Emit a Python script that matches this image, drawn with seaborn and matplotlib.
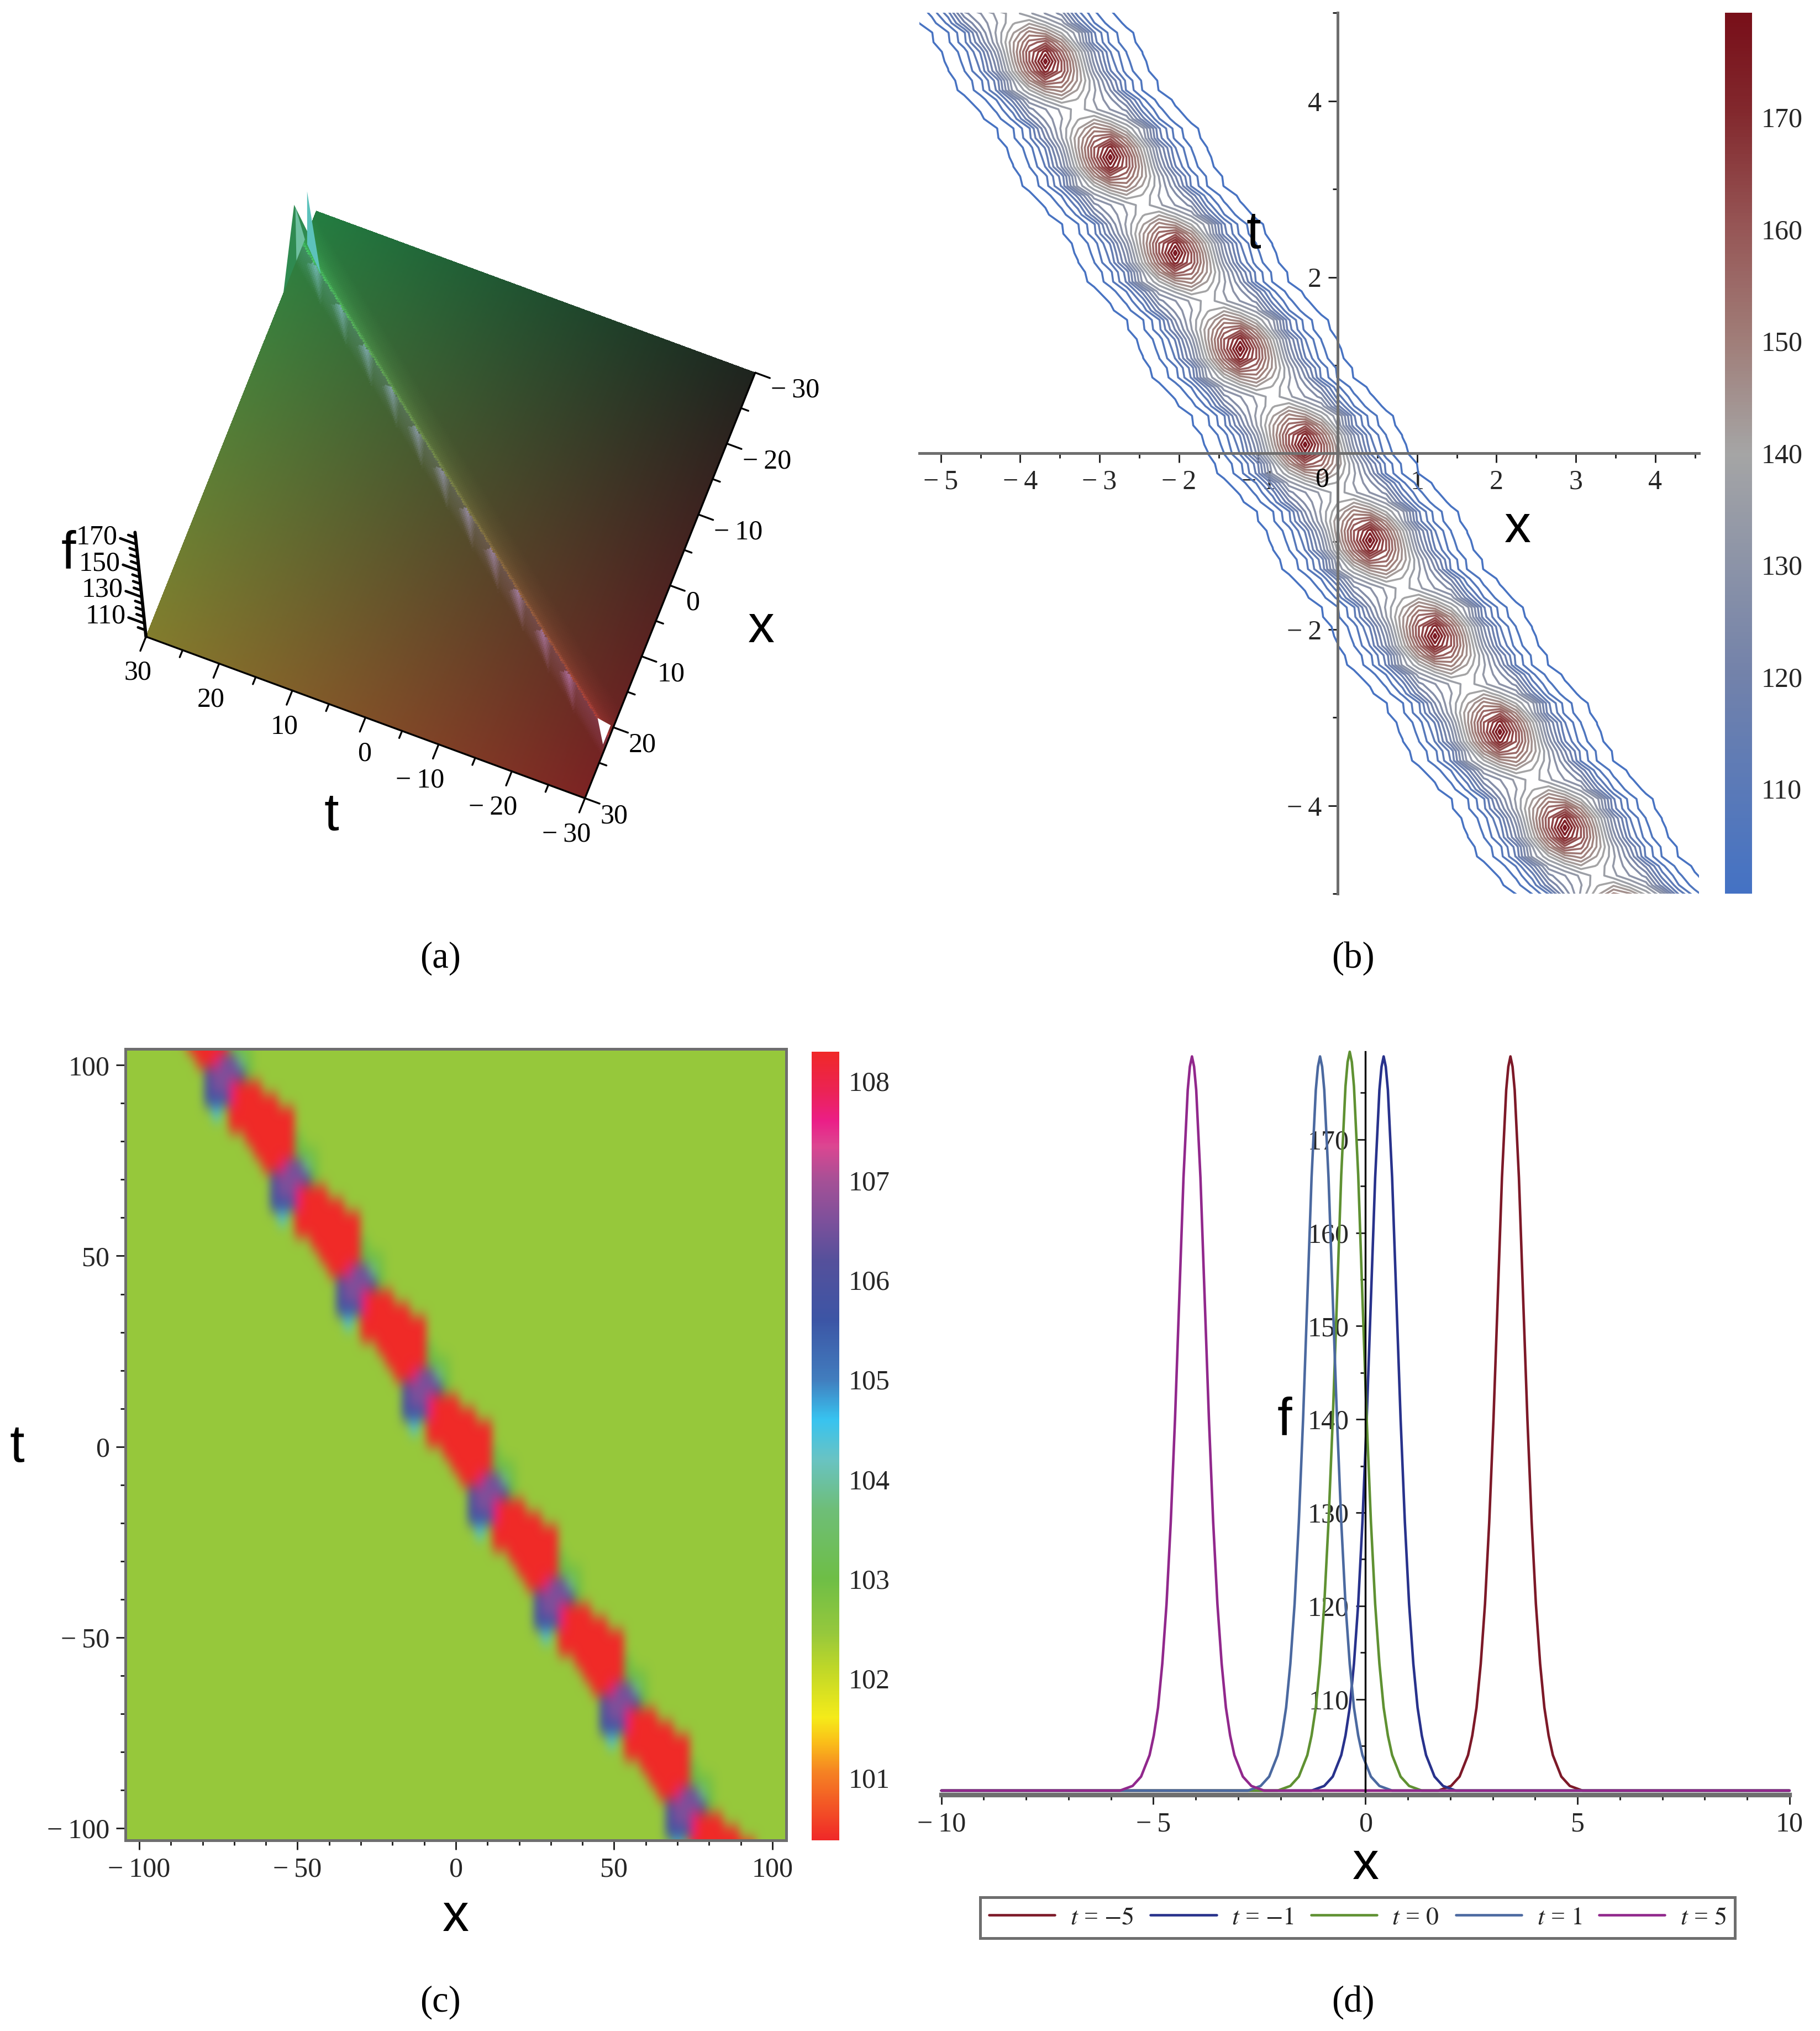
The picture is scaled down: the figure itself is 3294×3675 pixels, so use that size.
import numpy as np
import pandas as pd
import matplotlib
matplotlib.use("Agg")
import matplotlib.pyplot as plt
import seaborn as sns
from matplotlib.colors import LinearSegmentedColormap, Normalize
from matplotlib.cm import ScalarMappable
from mpl_toolkits.mplot3d import proj3d
from mpl_toolkits.mplot3d.art3d import Poly3DCollection

# (a) surface: corner colours, ridge and streaks
corner_L = [130, 125, 45]
corner_T = [35, 125, 65]
corner_R = [30, 35, 30]
corner_B = [125, 35, 35]
ridge_t = [30, -30]
ridge_x = [-25.2, 21.5]
streak_x = [-23, -19.13, -15.26, -11.39, -7.52, -3.65, 0.22, 4.09, 7.96, 11.83, 15.7]
streak_t = [27.4, 22.44, 17.48, 12.52, 7.56, 2.6, -2.36, -7.32, -12.28, -17.24, -22.2]
a_major = [-30, -20, -10, 0, 10, 20, 30]
a_minor = [-25, -15, -5, 5, 15, 25]
f_major = [110, 130, 150, 170]
f_minor = [105, 115, 120, 125, 135, 140, 145, 155, 160, 165, 175]

# (b) contours: peak places and one period of the band (rows top to bottom)
peak_x = [-4.5, -3.682, -2.864, -2.046, -1.228, -0.41, 0.408, 1.226, 2.044, 2.862, 3.68]
peak_t = [5.5375, 4.45, 3.3625, 2.275, 1.1875, 0.10, -0.9875, -2.075, -3.1625, -4.25, -5.3375]
row_mid = [100, 100.2, 100.4, 101.1, 102.5, 106, 113, 126, 143, 161, 178,
           161, 143, 126, 113, 106, 102.5, 101.1, 100.4, 100.2, 100]
row_dn1 = [100, 100.1, 100.4, 101, 102.1, 105.2, 111.6, 124, 140, 156, 172,
           161, 145, 129, 115, 106.9, 102.8, 101.2, 100.5, 100.2, 100]
row_dn2 = [100, 100, 100.2, 100.6, 101.4, 103.2, 107.6, 116, 133, 148, 160,
           156, 145, 133, 121, 110.5, 104.7, 101.9, 100.9, 100.35, 100.1]
row_dn3 = [100, 100, 100.2, 100.5, 101.2, 102.9, 107, 115, 131, 139, 147,
           150, 142, 134, 124, 111, 105.1, 102.1, 101, 100.4, 100.1]
row_dn4 = [100, 100, 100, 100.3, 100.7, 101.6, 103.8, 108.6, 119, 132, 137,
           142, 139, 133, 128, 120, 109.1, 104, 101.7, 100.8, 100.3]
row_saddle = [100, 100, 100, 100.2, 100.4, 101.1, 102.4, 106, 113, 126, 130,
              134, 138, 134, 130, 126, 113, 106, 102.5, 101.1, 100.4]
b_ticks_x = [-5, -4, -3, -2, -1, 1, 2, 3, 4]
b_ticks_t = [-4, -2, 2, 4]
b_bar_ticks = [110, 120, 130, 140, 150, 160, 170]

# (c) density: purple blob places and one period of the band
blob_x = [-93.8, -73, -52.2, -31.4, -10.6, 10.2, 31, 51.8, 72.6]
blob_t = [121.4, 94, 66.6, 39.2, 11.8, -15.6, -43, -70.4, -97.8]
bg = 102.45
red = 100.4
tile_c = [
    [bg, bg, 106.0, 106.6, 106.6, 107.7, red, red, red, bg, bg, bg],
    [bg, 105.6, 105.6, 105.8, 107.7, red, red, red, red, red, bg, bg],
    [bg, 104.5, bg, red, red, red, red, red, red, red, red, bg],
    [bg, bg, red, red, red, red, red, red, red, red, bg, bg],
    [bg, bg, bg, red, red, red, red, red, red, 103.0, bg, bg],
    [bg, bg, bg, red, red, red, red, red, 103.0, 103.0, 102.8, bg],
    [bg, bg, bg, red, red, 107.7, 106.6, 106.4, 103.8, 102.9, bg, bg],
    [bg, bg, bg, 106.2, 106.6, 106.6, 106.6, 106.0, 103.0, bg, bg, bg],
]
c_ticks = [-100, -50, 0, 50, 100]
c_bar_ticks = [101, 102, 103, 104, 105, 106, 107, 108]

# (d) curves
curve_f = [100.2, 100.2, 100.7, 101.7, 104, 106.1, 109.1, 113.8, 120.2, 129, 140, 152.9, 165.9, 175.3, 177.8, 178.9,
           177.8, 175.3, 165.9, 152.9, 140, 129, 120.2, 113.8, 109.1, 106.1, 104, 101.7, 100.7, 100.2, 100.2]
curve_f0 = [100.2, 100.2, 100.7, 101.7, 104, 106.1, 109.1, 113.8, 120.2, 129, 140, 153, 166.2, 175.7, 178.3, 179.4,
            178.3, 175.7, 166.2, 153, 140, 129, 120.2, 113.8, 109.1, 106.1, 104, 101.7, 100.7, 100.2, 100.2]
x_tm5 = [-10, 1.72, 2.02, 2.22, 2.42, 2.52, 2.62, 2.72, 2.82, 2.92, 3.02, 3.12, 3.22, 3.32, 3.37, 3.42,
         3.47, 3.52, 3.62, 3.72, 3.82, 3.92, 4.02, 4.12, 4.22, 4.32, 4.42, 4.62, 4.82, 5.12, 10]
x_tm1 = [-10, -1.27, -0.97, -0.77, -0.57, -0.47, -0.37, -0.27, -0.17, -0.07, 0.03, 0.13, 0.23, 0.33, 0.38, 0.43,
         0.48, 0.53, 0.63, 0.73, 0.83, 0.93, 1.03, 1.13, 1.23, 1.33, 1.43, 1.63, 1.83, 2.13, 10]
x_t0 = [-10, -2.07, -1.77, -1.57, -1.37, -1.27, -1.17, -1.07, -0.97, -0.87, -0.77, -0.67, -0.57, -0.47, -0.42, -0.37,
        -0.32, -0.27, -0.17, -0.07, 0.03, 0.13, 0.23, 0.33, 0.43, 0.53, 0.63, 0.83, 1.03, 1.33, 10]
x_t1 = [-10, -2.77, -2.47, -2.27, -2.07, -1.97, -1.87, -1.77, -1.67, -1.57, -1.47, -1.37, -1.27, -1.17, -1.12, -1.07,
        -1.02, -0.97, -0.87, -0.77, -0.67, -0.57, -0.47, -0.37, -0.27, -0.17, -0.07, 0.13, 0.33, 0.63, 10]
x_t5 = [-10, -5.79, -5.49, -5.29, -5.09, -4.99, -4.89, -4.79, -4.69, -4.59, -4.49, -4.39, -4.29, -4.19, -4.14, -4.09,
        -4.04, -3.99, -3.89, -3.79, -3.69, -3.59, -3.49, -3.39, -3.29, -3.19, -3.09, -2.89, -2.69, -2.39, 10]
d_labels = ["$t$ = $-5$", "$t$ = $-1$", "$t$ = $0$", "$t$ = $1$", "$t$ = $5$"]
d_colors = ["#7d1928", "#28328c", "#5f9132", "#4b69a0", "#91288c"]
d_ticks_x = [-10, -5, 0, 5, 10]
d_ticks_f = [110, 120, 130, 140, 150, 160, 170]

sns.set_theme(style="white")
plt.rcParams["font.family"] = ["Liberation Serif", "DejaVu Serif"]
plt.rcParams["mathtext.fontset"] = "stix"
plt.rcParams["axes.unicode_minus"] = True

W, H = 1406.0, 1568.0
fig = plt.figure(figsize=(3295 / 300, 3675 / 300), dpi=300, facecolor="white")


def rect(l, t, r, b):
    return [l / W, 1 - b / H, (r - l) / W, (b - t) / H]


def big(px, py, s):
    fig.text(px / W, 1 - py / H, s, family="Liberation Sans", fontsize=23, ha="center", va="center", color="black")


def minus(v):
    return str(v).replace("-", "\u2212\u2009")


tick_fs = 12
gray = "#6e6e6e"

# ---------- (a)
ax = fig.add_axes([0, 0.5, 0.5, 0.5 * 3295 / 3675], projection="3d", proj_type="ortho", computed_zorder=False)
ax.view_init(elev=75, azim=27, roll=6)
ax.set_box_aspect((1, 1, 0.86))
ax.set_xlim(-30, 30)
ax.set_ylim(30, -30)
ax.set_zlim(100, 179)
ax.set_autoscale_on(False)
ax.set_xticks([])
ax.set_yticks([])
ax.set_zticks([])
ax.set_axis_off()
ax.patch.set_alpha(0)


def corner(x, t, f=100):
    X, Y, _ = proj3d.proj_transform(x, t, f, ax.get_proj())
    return ax.transData.transform((X, Y))


# put the plane where it sits in the picture
s = 3295 / W
goal_L = np.array([113 * s, (H - 492) * s])
goal_R = np.array([583 * s, (H - 287) * s])
for i in range(3):
    fig.canvas.draw()
    pL, pR = corner(30, 30), corner(-30, -30)
    k = np.linalg.norm(goal_R - goal_L) / np.linalg.norm(pR - pL)
    pos = ax.get_position()
    mid = (pL + pR) / 2
    goal_mid = (goal_L + goal_R) / 2
    x0 = pos.x0 * 3295 + (goal_mid[0] - mid[0])
    y0 = pos.y0 * 3675 + (goal_mid[1] - mid[1])
    cx = x0 + pos.width * 3295 / 2
    cy = y0 + pos.height * 3675 / 2
    nw = pos.width * 3295 * k
    nh = pos.height * 3675 * k
    ax.set_position([(cx - nw / 2) / 3295, (cy - nh / 2) / 3675, nw / 3295, nh / 3675])
fig.canvas.draw()


def label3d(x, t, f, text, ha):
    p = corner(x, t, f)
    fig.text(p[0] / 3295, p[1] / 3675, text, ha=ha, va="center", fontsize=tick_fs, color="black")


gx = np.linspace(-30, 30, 241)
gt = np.linspace(30, -30, 241)
X, T = np.meshgrid(gx, gt)
u = (X + 30) / 60   # 0 at x=-30
v = (30 - T) / 60   # 0 at t=30
base = ((1 - u) * (1 - v))[..., None] * np.array(corner_T) + (u * (1 - v))[..., None] * np.array(corner_L) \
    + ((1 - u) * v)[..., None] * np.array(corner_R) + (u * v)[..., None] * np.array(corner_B)
base = base / 255.0

off = X - np.interp(T, ridge_t[::-1], ridge_x[::-1])
glow = np.interp(off, [-4, -2, -0.6, -0.1, 0], [0, 0.1, 0.25, 0.65, 0])
wash = np.interp(off, [-0.1, 0, 1.6, 2.6], [0, 0.4, 0.2, 0])
for sx, st in zip(streak_x, streak_t):
    along = ((X - sx) * 4.66 + (T - st) * -2.57) / (4.66 ** 2 + 2.57 ** 2)
    across = ((X - sx) * 2.57 + (T - st) * 4.66) / 5.32
    half = np.maximum(1.1 * (1 - along), 0.01)
    a = 0.9 * np.clip(1 - along, 0, 1) * np.clip(1 - np.abs(across) / half, 0, 1)
    a[(along < -0.15) | (off < 0)] = 0
    wash = wash + a
rgb = base * (1 + glow[..., None]) + wash[..., None] * np.array([50, 45, 85]) / 255.0
rgb = np.clip(rgb, 0, 1)
ax.plot_surface(X, T, np.full_like(X, 100.0), facecolors=rgb, rstride=1, cstride=1, linewidth=0,
                antialiased=False, shade=False, zorder=1)

spikes = [
    ([-18.4, -27, -24], [30, 30, 30], [100, 100, 137], "#2f8a50"),
    ([-23, -26, -24.3], [30, 30, 30], [100, 100, 134], "#6fc0a0"),
    ([-25.5, -22.5, -23.9], [29.5, 26.5, 27.9], [100, 100, 152], "#5cc2bc"),
    ([19.6, 19.9, 22.6], [-27.7, -29.6, -29.6], [100.2, 100.2, 100.2], "white"),
]
for sx, st, sf, col in spikes:
    ax.add_collection3d(Poly3DCollection([list(zip(sx, st, sf))], facecolors=col, edgecolors="none", zorder=2))

ax.plot([30, 30], [30, -30], [100, 100], color="black", lw=0.8, zorder=3)
ax.plot([30, -30], [-30, -30], [100, 100], color="black", lw=0.8, zorder=3)
ax.plot([30, 30], [30, 30], [100, 179], color="black", lw=1.4, zorder=3)
for v_ in a_major:
    ax.plot([30, 32], [v_, v_], [100, 100], color="black", lw=0.8, zorder=3)
    label3d(34.2, v_ - 2.4, 100, minus(v_), "right")
    ax.plot([v_, v_], [-30, -32], [100, 100], color="black", lw=0.8, zorder=3)
    label3d(v_ + 1.5, -32.7, 100, minus(v_), "left")
for v_ in a_minor:
    ax.plot([30, 31], [v_, v_], [100, 100], color="black", lw=0.8, zorder=3)
    ax.plot([v_, v_], [-30, -31], [100, 100], color="black", lw=0.8, zorder=3)
for v_ in f_major:
    ax.plot([30, 30], [30, 32.2], [v_, v_], color="black", lw=1.1, zorder=3)
    label3d(30, 32.6, v_, str(v_), "right")
for v_ in f_minor:
    ax.plot([30, 30], [30, 31], [v_, v_], color="black", lw=1.1, zorder=3)
big(256, 630, "t")
big(588, 485, "x")
big(53, 428, "f")

# ---------- (b)
ax = fig.add_axes(rect(710, 10, 1312, 690))
dx_b, dt_b = 0.818 / 4, 1.0875 / 10
x_b = -0.41 - 27 * dx_b + dx_b * np.arange(56)
t_b = 0.10 + 52 * dt_b - dt_b * np.arange(108)
field = np.full((len(t_b), len(x_b)), 100.0)
tile_b = [row_dn4[::-1], row_dn3[::-1], row_dn2[::-1], row_dn1[::-1], row_mid,
          row_dn1, row_dn2, row_dn3, row_dn4, row_saddle]
for px, pt in zip(peak_x, peak_t):
    ci = int(round((px - x_b[0]) / dx_b))
    ri = int(round((t_b[0] - pt) / dt_b))
    for k, row in enumerate(tile_b):
        for j, val in enumerate(row):
            rr, cc = ri + k - 4, ci + j - 10
            if 0 <= rr < len(t_b) and 0 <= cc < len(x_b):
                field[rr, cc] = max(field[rr, cc], val)
cmap_b = LinearSegmentedColormap.from_list("b", [
    (0.0, "#4472c4"), (0.25, "#7382aa"), (0.5, "#a5a5a5"), (0.63, "#a07d78"),
    (0.76, "#965555"), (0.89, "#82282d"), (1.0, "#780f19")])
norm_b = Normalize(100.6, 179.3)
ax.contour(x_b, t_b, field, levels=np.arange(102.2, 178, 3.1), cmap=cmap_b, norm=norm_b, linewidths=0.85, zorder=1)
ax.set_xlim(-5.27, 4.55)
ax.set_ylim(-5, 5)
for side in ["top", "right"]:
    ax.spines[side].set_visible(False)
for side in ["left", "bottom"]:
    ax.spines[side].set_position(("data", 0))
    ax.spines[side].set_color(gray)
    ax.spines[side].set_linewidth(1.2)
ax.set_xticks(b_ticks_x, [minus(v_) for v_ in b_ticks_x])
ax.set_yticks(b_ticks_t, [minus(v_) for v_ in b_ticks_t])
ax.set_xticks(np.arange(-5, 4.6, 0.5), minor=True)
ax.set_yticks(np.arange(-5, 5.1, 1), minor=True)
ax.tick_params(which="major", direction="out", length=4, width=0.7, color="#222222", labelsize=tick_fs, pad=3,
               bottom=True, left=True)
ax.tick_params(which="minor", direction="out", length=2.2, width=0.7, color="#222222", bottom=True, left=True)
ax.patch.set_alpha(0)
ax.text(-0.2, -0.3, "0", fontsize=tick_fs, ha="center", va="center", color="black")
big(968, 181, "t")
big(1172, 408, "x")

cax = fig.add_axes(rect(1332, 10, 1353, 690))
cb = fig.colorbar(ScalarMappable(norm=norm_b, cmap=cmap_b), cax=cax, ticks=b_bar_ticks)
cb.outline.set_visible(False)
cb.ax.tick_params(length=0, labelsize=tick_fs, pad=4)

# ---------- (c)
ax = fig.add_axes(rect(97, 810, 607, 1421))
dx_c, dt_c = 2.6, 3.425
x_c = -73 - 12 * dx_c + dx_c * np.arange(81)
t_c = 94 + 4 * dt_c - dt_c * np.arange(64)
grid_c = np.full((len(t_c), len(x_c)), bg)
for bx, bt in zip(blob_x, blob_t):
    ci = int(round((bx - x_c[0]) / dx_c))
    ri = int(round((t_c[0] - bt) / dt_c))
    for k, row in enumerate(tile_c):
        for j, val in enumerate(row):
            rr, cc = ri + k, ci + k + j - 4
            if 0 <= rr < len(t_c) and 0 <= cc < len(x_c):
                grid_c[rr, cc] = val
cmap_c = LinearSegmentedColormap.from_list("c", [
    (0.0, (240 / 255, 40 / 255, 40 / 255)),
    ((101.05 - 100.37) / 7.92, (245 / 255, 130 / 255, 35 / 255)),
    ((101.35 - 100.37) / 7.92, (250 / 255, 190 / 255, 25 / 255)),
    ((101.6 - 100.37) / 7.92, (245 / 255, 235 / 255, 25 / 255)),
    ((102.1 - 100.37) / 7.92, (190 / 255, 215 / 255, 40 / 255)),
    ((102.45 - 100.37) / 7.92, (150 / 255, 200 / 255, 60 / 255)),
    ((103.0 - 100.37) / 7.92, (110 / 255, 190 / 255, 70 / 255)),
    ((103.7 - 100.37) / 7.92, (110 / 255, 190 / 255, 120 / 255)),
    ((104.2 - 100.37) / 7.92, (105 / 255, 195 / 255, 195 / 255)),
    ((104.6 - 100.37) / 7.92, (55 / 255, 195 / 255, 240 / 255)),
    ((105.0 - 100.37) / 7.92, (65 / 255, 125 / 255, 190 / 255)),
    ((105.6 - 100.37) / 7.92, (60 / 255, 85 / 255, 165 / 255)),
    ((106.2 - 100.37) / 7.92, (85 / 255, 80 / 255, 155 / 255)),
    ((106.6 - 100.37) / 7.92, (125 / 255, 80 / 255, 155 / 255)),
    ((107.0 - 100.37) / 7.92, (165 / 255, 80 / 255, 150 / 255)),
    ((107.35 - 100.37) / 7.92, (220 / 255, 70 / 255, 145 / 255)),
    ((107.6 - 100.37) / 7.92, (235 / 255, 30 / 255, 135 / 255)),
    ((107.9 - 100.37) / 7.92, (235 / 255, 35 / 255, 85 / 255)),
    (1.0, (240 / 255, 40 / 255, 40 / 255)),
], N=512)
norm_c = Normalize(100.37, 108.29)
ax.imshow(grid_c, cmap=cmap_c, norm=norm_c, aspect="auto", interpolation="bicubic", interpolation_stage="rgba",
          extent=[x_c[0] - dx_c / 2, x_c[-1] + dx_c / 2, t_c[-1] - dt_c / 2, t_c[0] + dt_c / 2])
ax.set_xlim(-104.3, 104.3)
ax.set_ylim(-103.3, 104.2)
ax.grid(False)
for side in ax.spines:
    ax.spines[side].set_color(gray)
    ax.spines[side].set_linewidth(1.2)
ax.set_xticks(c_ticks, [minus(v_) for v_ in c_ticks])
ax.set_yticks(c_ticks, [minus(v_) for v_ in c_ticks])
ax.set_xticks(np.arange(-100, 101, 10), minor=True)
ax.set_yticks(np.arange(-100, 101, 10), minor=True)
ax.tick_params(which="major", direction="out", length=4, width=0.7, color="#222222", labelsize=tick_fs, pad=3,
               bottom=True, left=True)
ax.tick_params(which="minor", direction="out", length=2.2, width=0.7, color="#222222", bottom=True, left=True)
big(13, 1118, "t")
big(352, 1480, "x")

cax = fig.add_axes(rect(627, 812, 648, 1421))
cb = fig.colorbar(ScalarMappable(norm=norm_c, cmap=cmap_c), cax=cax, ticks=c_bar_ticks)
cb.outline.set_visible(False)
cb.ax.tick_params(length=0, labelsize=tick_fs, pad=4)

# ---------- (d)
ax = fig.add_axes(rect(727, 812, 1382, 1386))
frames = []
for xs, fs, lab in zip([x_tm5, x_tm1, x_t0, x_t1, x_t5], [curve_f, curve_f, curve_f0, curve_f, curve_f], d_labels):
    frames.append(pd.DataFrame({"x": xs, "f": fs, "t": lab}))
df = pd.concat(frames, ignore_index=True)
sns.lineplot(data=df, x="x", y="f", hue="t", hue_order=d_labels, palette=d_colors, sort=False, estimator=None,
             linewidth=1.1, ax=ax, clip_on=False)
handles, labels = ax.get_legend_handles_labels()
ax.get_legend().remove()
ax.set_xlim(-10, 10)
ax.set_ylim(99.7, 179.4)
ax.set_xlabel("")
ax.set_ylabel("")
for side in ["top", "right"]:
    ax.spines[side].set_visible(False)
ax.spines["left"].set_position(("data", 0))
ax.spines["left"].set_color("black")
ax.spines["left"].set_linewidth(0.8)
ax.spines["bottom"].set_color(gray)
ax.spines["bottom"].set_linewidth(2)
ax.set_xticks(d_ticks_x, [minus(v_) for v_ in d_ticks_x])
ax.set_yticks(d_ticks_f, [str(v_) for v_ in d_ticks_f])
ax.set_xticks(np.arange(-10, 10.1, 1), minor=True)
ax.set_yticks(np.arange(105, 176, 5), minor=True)
ax.tick_params(which="major", direction="out", length=4, width=0.7, color="#222222", labelsize=tick_fs, pad=3,
               bottom=True, left=True)
ax.tick_params(which="minor", direction="out", length=2.2, width=0.7, color="#222222", bottom=True, left=True)
ax.patch.set_alpha(0)
big(992, 1097, "f")
big(1055, 1440, "x")
leg = fig.legend(handles, labels, ncols=5, loc="center", mode="expand", borderaxespad=0, frameon=True,
                 fancybox=False, edgecolor=gray, fontsize=11, handlelength=2.6, columnspacing=0.8, handletextpad=0.6,
                 bbox_to_anchor=(757 / W, 1 - 1495 / H, 583 / W, 29 / H), borderpad=0.35)
leg.get_frame().set_linewidth(1.2)
leg.get_frame().set_alpha(1)

for lab, px, py in [("(a)", 340, 740), ("(b)", 1045, 740), ("(c)", 340, 1546), ("(d)", 1045, 1546)]:
    fig.text(px / W, 1 - py / H, lab, fontsize=16, ha="center", va="center", color="black")

fig.savefig("out.png", dpi=300, facecolor="white")
